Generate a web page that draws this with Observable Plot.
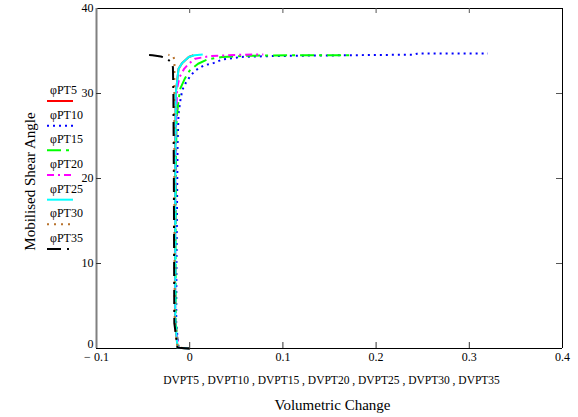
<!DOCTYPE html>
<html>
<head>
<meta charset="utf-8">
<script src="https://cdn.jsdelivr.net/npm/d3@7"></script>
<script src="https://cdn.jsdelivr.net/npm/@observablehq/plot@0.6"></script>
<style>
  body { margin: 0; background: #fff; }
  #chart svg { display: block; }
</style>
</head>
<body>
<div id="chart"></div>
<script>
// Mobilised shear angle (degrees) against volumetric change for each test
const seriesNames = ["φPT5", "φPT10", "φPT15", "φPT20", "φPT25", "φPT30", "φPT35"];

const dvPT5  = [0, -0.013, -0.0158, -0.0158, -0.0155, -0.015, -0.013, -0.012, -0.008, -0.001, 0.004];
const phiPT5 = [0, 0.1, 3, 12, 24, 30, 31.9, 32.9, 33.6, 34.3, 34.5];

const dvPT10  = [0, -0.012, -0.0145, -0.0142, -0.0135, -0.013, -0.012, -0.010, -0.008, -0.004, 0.001, 0.006, 0.015, 0.026, 0.035, 0.055, 0.087, 0.12, 0.17, 0.22, 0.24, 0.245, 0.27, 0.32];
const phiPT10 = [0, 0.1, 3, 10, 18, 24, 27.6, 29.2, 30.4, 31.3, 32.1, 32.7, 33.3, 33.6, 34.0, 34.3, 34.4, 34.45, 34.5, 34.55, 34.55, 34.72, 34.72, 34.72];

const dvPT15  = [0, -0.012, -0.015, -0.0152, -0.0148, -0.014, -0.012, -0.010, -0.005, 0.000, 0.009, 0.019, 0.035, 0.065, 0.12, 0.173];
const phiPT15 = [0, 0.1, 3, 12, 22, 27, 29.2, 30.6, 31.8, 32.7, 33.5, 34.0, 34.3, 34.45, 34.5, 34.5];

const dvPT20  = [0, -0.012, -0.0155, -0.0155, -0.015, -0.0135, -0.011, -0.006, -0.001, 0.006, 0.022, 0.05, 0.079];
const phiPT20 = [0, 0.1, 3, 15, 25, 30.6, 31.9, 32.9, 33.5, 34.1, 34.4, 34.55, 34.6];

const dvPT25  = [0, -0.013, -0.0155, -0.0155, -0.015, -0.013, -0.012, -0.008, -0.001, 0.005, 0.014];
const phiPT25 = [0, 0.1, 3, 20, 30, 31.9, 32.9, 33.6, 34.3, 34.5, 34.6];

const dvPT30  = [0, -0.013, -0.016, -0.0165, -0.0165, -0.0163, -0.0175, -0.023];
const phiPT30 = [0, 0.1, 3, 20, 30, 33.8, 34.4, 34.55];

const dvPT35  = [0, -0.013, -0.0165, -0.017, -0.0175, -0.018, -0.020, -0.025, -0.031, -0.040, -0.047];
const phiPT35 = [0, 0.1, 3, 20, 30, 33.1, 33.7, 34.15, 34.35, 34.5, 34.55];

const xTicks = [-0.1, 0, 0.1, 0.2, 0.3, 0.4];
const xTickLabels = ["\u2212 0.1", "0", "0.1", "0.2", "0.3", "0.4"];
const yTicks = [0, 10, 20, 30, 40];
const yTickLabels = ["0", "10", "20", "30", "40"];

const xVariables = "DVPT5 , DVPT10 , DVPT15 , DVPT20 , DVPT25 , DVPT30 , DVPT35";
const xTitle = "Volumetric Change";
const yTitle = "Mobilised Shear Angle";

// trace styles
const traceStyles = [
  {stroke: "#ff0000", dash: null},
  {stroke: "#0000ff", dash: "2,4"},
  {stroke: "#00ff00", dash: "14,5,3,5"},
  {stroke: "#ff00ff", dash: "7,4,2,4"},
  {stroke: "#00ffff", dash: null},
  {stroke: "#b8732e", dash: "2,5"},
  {stroke: "#000000", dash: "14,6,2,6"}
];

const dvs = [dvPT5, dvPT10, dvPT15, dvPT20, dvPT25, dvPT30, dvPT35];
const phis = [phiPT5, phiPT10, phiPT15, phiPT20, phiPT25, phiPT30, phiPT35];
const traces = seriesNames.map((name, s) =>
  dvs[s].map((dv, i) => ({series: name, dv, phi: phis[s][i]}))
);

const serif = "'Liberation Serif', serif";
const innerTicksX = xTicks.slice(1, -1);
const innerTicksY = yTicks.slice(1, -1);

const chart = Plot.plot({
  width: 578,
  height: 417,
  marginLeft: 96,
  marginRight: 16,
  marginTop: 8,
  marginBottom: 69,
  x: {domain: [-0.1, 0.4]},
  y: {domain: [0, 40]},
  style: {fontFamily: serif, fontSize: "12px", background: "#fff", color: "#000"},
  marks: [
    // box
    Plot.ruleY([0], {stroke: "#000"}),
    Plot.ruleY([40], {stroke: "#000"}),
    Plot.ruleX([0.4], {stroke: "#000"}),
    Plot.ruleX([-0.1], {stroke: "#808080", strokeWidth: 2}),
    // inward ticks
    Plot.tickX(innerTicksX, {x: d => d, insetTop: 334, stroke: "#333"}),
    Plot.tickX(innerTicksX, {x: d => d, insetBottom: 335, stroke: "#555"}),
    Plot.tickY(innerTicksY, {y: d => d, insetRight: 461, stroke: "#333"}),
    Plot.tickY(innerTicksY, {y: d => d, insetLeft: 460, stroke: "#555"}),
    // tick labels
    Plot.axisX(xTicks, {tickSize: 0, tickPadding: 4, label: null,
      tickFormat: d => xTickLabels[xTicks.indexOf(d)]}),
    Plot.axisY(yTicks.slice(1), {tickSize: 0, tickPadding: 3, label: null,
      tickFormat: d => yTickLabels[yTicks.indexOf(d)]}),
    Plot.axisY([0], {tickSize: 0, tickPadding: 3, label: null, dy: -4,
      tickFormat: d => yTickLabels[yTicks.indexOf(d)]}),
    // traces
    ...traces.map((rows, s) => Plot.line(rows, {
      x: "dv", y: "phi",
      stroke: traceStyles[s].stroke,
      strokeWidth: 2,
      strokeDasharray: traceStyles[s].dash,
      strokeLinecap: "butt",
      curve: "linear"
    })),
    // axis titles
    Plot.text([xVariables], {frameAnchor: "bottom", lineAnchor: "middle", textAnchor: "middle", dy: 32, dx: 2, fontSize: 11.5}),
    Plot.text([xTitle], {frameAnchor: "bottom", lineAnchor: "middle", textAnchor: "middle", dy: 57, dx: 3, fontSize: 15}),
    Plot.text([yTitle], {frameAnchor: "left", lineAnchor: "middle", textAnchor: "middle", dx: -66, dy: 3, rotate: -90, fontSize: 15})
  ]
});

// legend: name above a short sample of each trace
const svg = d3.select(chart);
const legend = svg.append("g")
  .attr("font-family", serif)
  .attr("font-size", 12)
  .attr("text-anchor", "start");
seriesNames.forEach((name, i) => {
  const yc = 90 + i * 24.67;
  legend.append("text")
    .attr("x", 50).attr("y", yc + 4)
    .attr("fill", "#000")
    .text(name);
  legend.append("line")
    .attr("x1", 47).attr("x2", 73)
    .attr("y1", yc + 11).attr("y2", yc + 11)
    .attr("stroke", traceStyles[i].stroke)
    .attr("stroke-width", 2)
    .attr("stroke-dasharray", traceStyles[i].dash);
});

document.getElementById("chart").appendChild(chart);
</script>
</body>
</html>
